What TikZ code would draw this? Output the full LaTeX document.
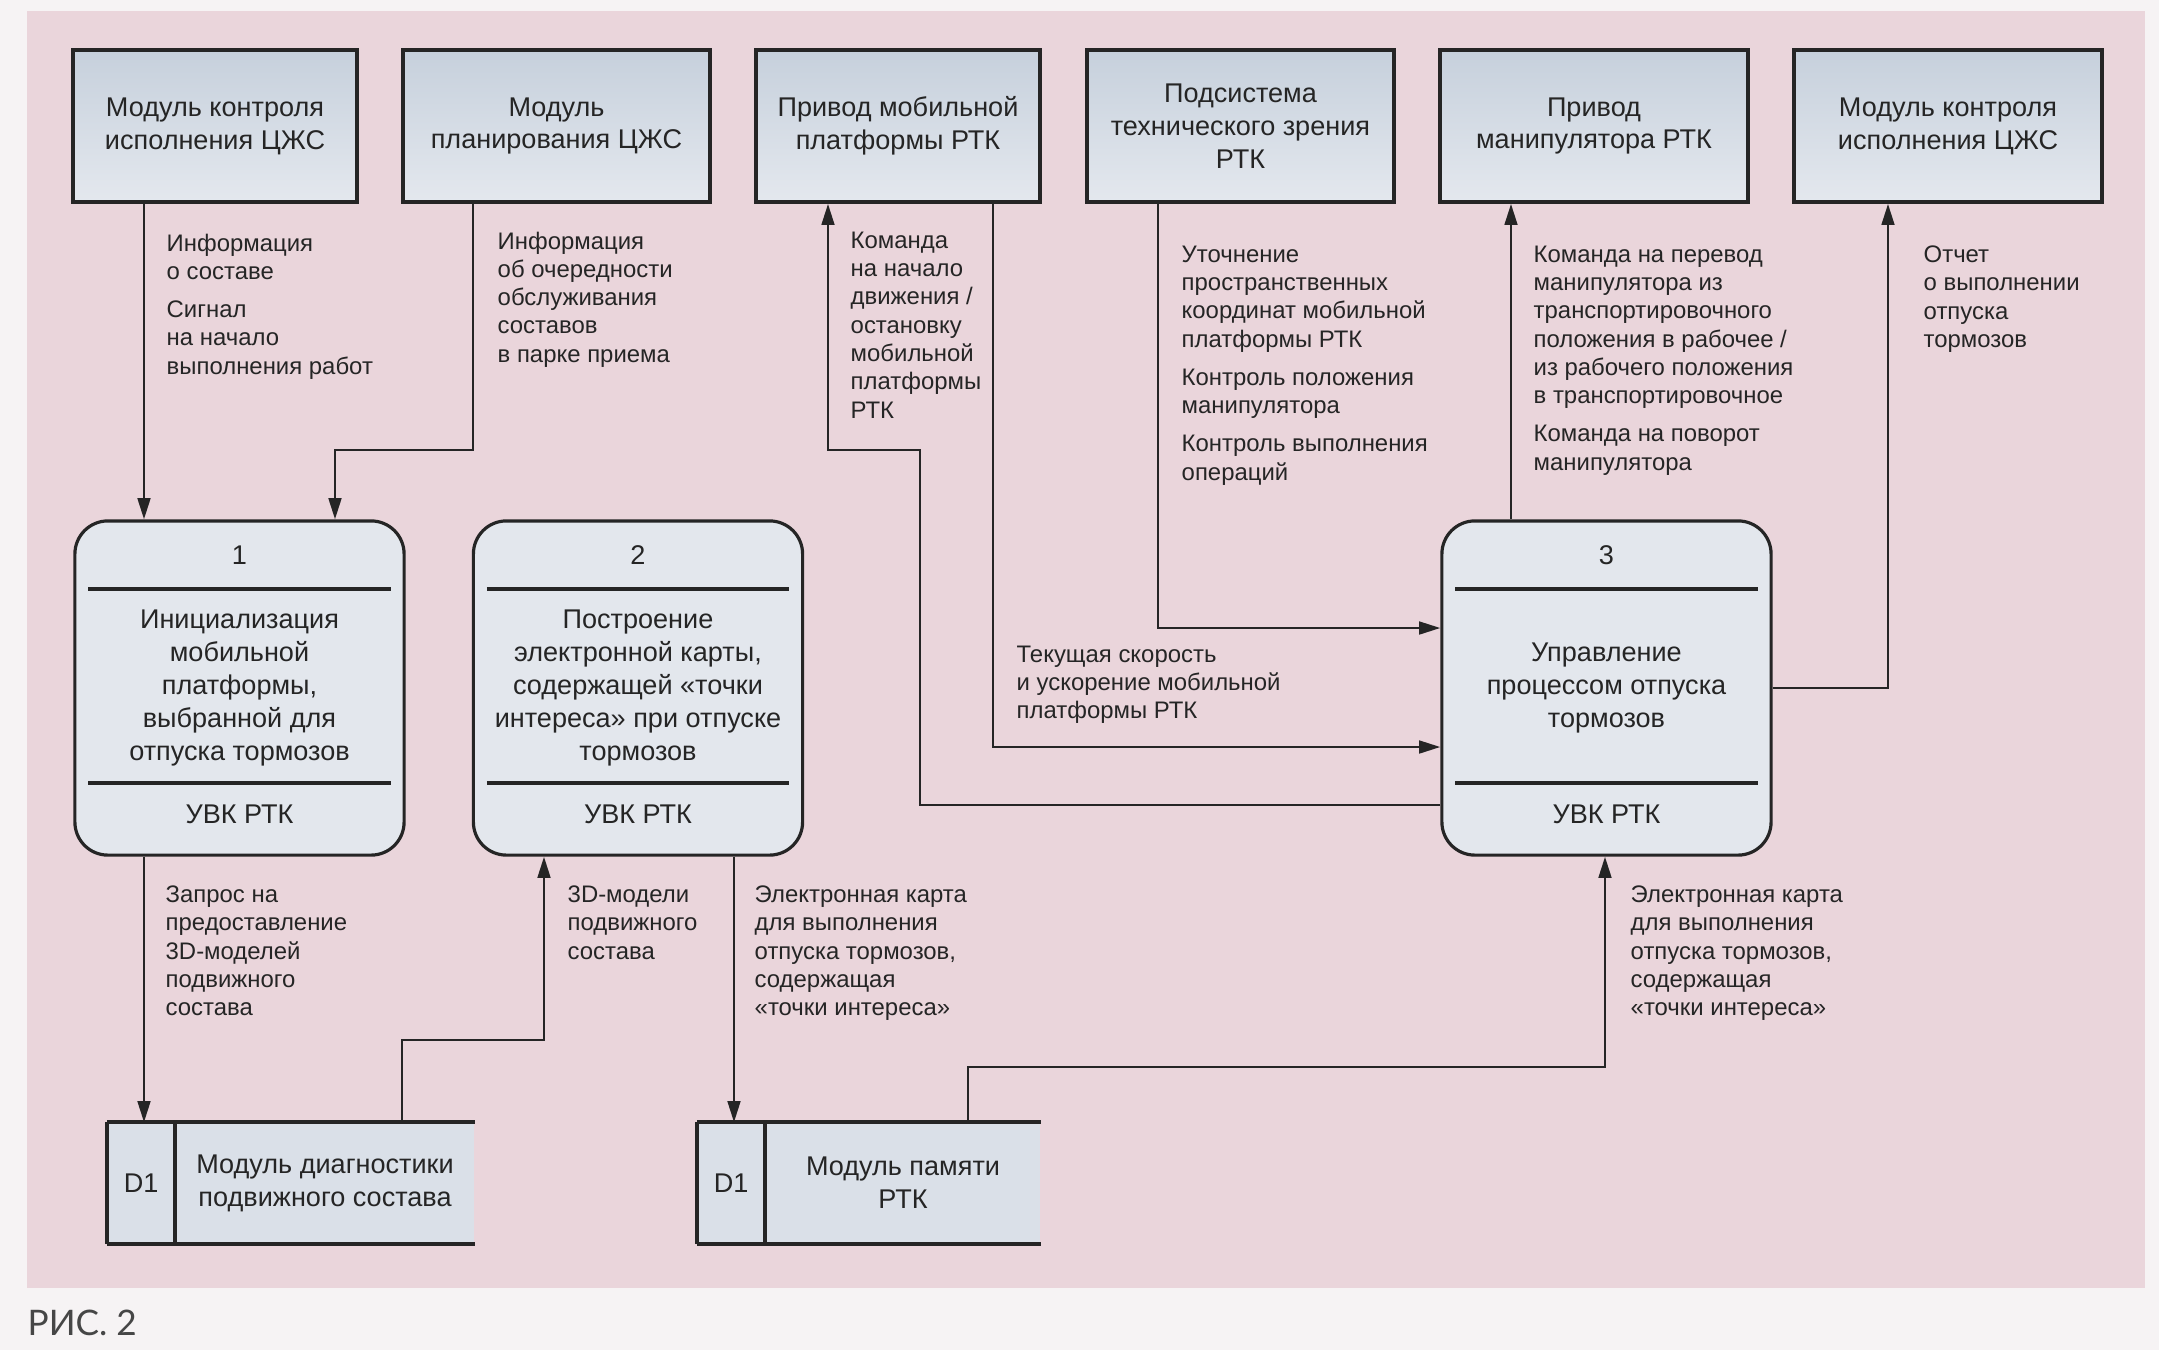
\documentclass[tikz,border=0pt]{standalone}
\usepackage{fontspec}
\setmainfont{Liberation Sans}
\newfontfamily\capfont{Lato}
\usetikzlibrary{arrows.meta}
\definecolor{pinkbg}{HTML}{EAD5DB}
\definecolor{paper}{HTML}{F6F3F4}
\definecolor{boxtop}{HTML}{C6D0DC}
\definecolor{boxbot}{HTML}{E4E8EE}
\definecolor{procfill}{HTML}{E3E7ED}
\definecolor{storefill}{HTML}{DAE0E8}
\definecolor{ink}{HTML}{252525}
\tikzset{
    ext/.style={draw=ink, line width=1pt, top color=boxtop, bottom color=boxbot,
        minimum height=1.52cm, align=center, text=ink, inner sep=0pt,
        font=\fontsize{7.7}{9.35}\selectfont},
    proc/.style={draw=ink, line width=0.9pt, fill=procfill, rounded corners=0.33cm,
        minimum width=3.29cm, minimum height=3.34cm},
    ptext/.style={align=center, text=ink, inner sep=0pt, font=\fontsize{7.7}{9.35}\selectfont},
    store/.style={fill=storefill, minimum height=1.20cm, inner sep=0pt},
    lbl/.style={anchor=north west, align=left, text=ink, inner sep=0pt,
        font=\fontsize{6.8}{8.05}\selectfont},
    dataflow/.style={draw=ink, line width=0.75pt, -{Triangle[length=6pt,width=3.6pt]}},
    divline/.style={draw=ink, line width=1.1pt},
    edgeline/.style={draw=ink, line width=1.2pt},
}
\begin{document}
\begin{tikzpicture}[x=0.01cm, y=-0.01cm]
    \useasboundingbox (0,0) rectangle (2159,1350);
    \fill[paper] (0,0) rectangle (2159,1350);
    \fill[pinkbg] (27,11) rectangle (2145,1288);

    \node[ext, minimum width=2.84cm] (ext1) at (215,126) {Модуль контроля\\исполнения ЦЖС};
    \node[ext, minimum width=3.07cm] (ext2) at (556.5,126) {Модуль\\планирования ЦЖС};
    \node[ext, minimum width=2.84cm] (ext3) at (898,126) {Привод мобильной\\платформы РТК};
    \node[ext, minimum width=3.07cm] (ext4) at (1240.5,126) {Подсистема\\технического зрения\\РТК};
    \node[ext, minimum width=3.08cm] (ext5) at (1594,126) {Привод\\манипулятора РТК};
    \node[ext, minimum width=3.08cm] (ext6) at (1948,126) {Модуль контроля\\исполнения ЦЖС};

    \node[proc] (p1) at (239.5,688) {};
    \node[proc] (p2) at (638,688) {};
    \node[proc] (p3) at (1606.5,688) {};
    \foreach \p/\n in {p1/1, p2/2, p3/3} {
        \draw[divline] ([xshift=0.15cm,yshift=-0.70cm]\p.north west) -- ([xshift=-0.15cm,yshift=-0.70cm]\p.north east);
        \draw[divline] ([xshift=0.15cm,yshift=0.74cm]\p.south west) -- ([xshift=-0.15cm,yshift=0.74cm]\p.south east);
        \node[ptext] (\p-num) at ([yshift=-0.36cm]\p.north) {\n};
        \node[ptext] (\p-unit) at ([yshift=0.42cm]\p.south) {УВК РТК};
    }
    \node[ptext] (p1-txt) at (p1) {Инициализация\\мобильной\\платформы,\\выбранной для\\отпуска тормозов};
    \node[ptext] (p2-txt) at (p2) {Построение\\электронной карты,\\содержащей «точки\\интереса» при отпуске\\тормозов};
    \node[ptext] (p3-txt) at (p3) {Управление\\процессом отпуска\\тормозов};

    \node[store, minimum width=3.66cm] (s1) at (291,1183) {};
    \node[store, minimum width=3.42cm] (s2) at (869,1183) {};
    \foreach \s in {s1, s2} {
        \draw[edgeline] (\s.north east) -- (\s.north west);
        \draw[edgeline] (\s.south west) -- (\s.south east);
        \draw[divline] (\s.north west) -- (\s.south west);
        \draw[divline] ([xshift=0.68cm]\s.north west) -- ([xshift=0.68cm]\s.south west);
        \node[ptext] (\s-id) at ([xshift=0.34cm]\s.west) {D1};
    }
    \node[ptext] (s1-txt) at ([xshift=0.34cm]s1.center) {Модуль диагностики\\подвижного состава};
    \node[ptext] (s2-txt) at ([xshift=0.34cm]s2.center) {Модуль памяти\\РТК};

    \coordinate (f1) at (144,0);
    \coordinate (a2) at (473,0);
    \coordinate (b2) at (335,450);
    \coordinate (c3) at (920,805);
    \coordinate (d3) at (828,450);
    \coordinate (e3) at (993,747);
    \coordinate (g4) at (1158,628);
    \coordinate (h5) at (1511,0);
    \coordinate (k6) at (1888,688);
    \coordinate (m1) at (402,0);
    \coordinate (n1) at (544,1040);
    \coordinate (q2) at (734,0);
    \coordinate (r2) at (968,0);
    \coordinate (t2) at (1605,1067);

    \draw[dataflow] (ext1.south -| f1) -- (p1.north -| f1);
    \draw[dataflow] (ext2.south -| a2) |- (b2) -- (b2 |- p1.north);
    \draw[dataflow] (p3.west |- c3) -- (c3) |- (d3) -- (d3 |- ext3.south);
    \draw[dataflow] (ext3.south -| e3) |- (p3.west |- e3);
    \draw[dataflow] (ext4.south -| g4) |- (p3.west |- g4);
    \draw[dataflow] (p3.north -| h5) -- (ext5.south -| h5);
    \draw[dataflow] (p3.east |- k6) -- (k6) -- (k6 |- ext6.south);
    \draw[dataflow] (p1.south -| f1) -- (s1.north -| f1);
    \draw[dataflow] (s1.north -| m1) |- (n1) -- (n1 |- p2.south);
    \draw[dataflow] (p2.south -| q2) -- (s2.north -| q2);
    \draw[dataflow] (s2.north -| r2) |- (t2) -- (t2 |- p3.south);

    \node[lbl] (l1) at (166,233) {Информация\\о составе\\[2.8pt]Сигнал\\на начало\\выполнения работ};
    \node[lbl] (l2) at (497,231) {Информация\\об очередности\\обслуживания\\составов\\в парке приема};
    \node[lbl] (l3) at (850,231) {Команда\\на начало\\движения /\\остановку\\мобильной\\платформы\\РТК};
    \node[lbl] (l4) at (1016,645) {Текущая скорость\\и ускорение мобильной\\платформы РТК};
    \node[lbl] (l5) at (1181,245) {Уточнение\\пространственных\\координат мобильной\\платформы РТК\\[2.8pt]Контроль положения\\манипулятора\\[2.8pt]Контроль выполнения\\операций};
    \node[lbl] (l6) at (1533,245) {Команда на перевод\\манипулятора из\\транспортировочного\\положения в рабочее /\\из рабочего положения\\в транспортировочное\\[2.8pt]Команда на поворот\\манипулятора};
    \node[lbl] (l7) at (1923,245) {Отчет\\о выполнении\\отпуска\\тормозов};
    \node[lbl] (l8) at (165,885) {Запрос на\\предоставление\\3D-моделей\\подвижного\\состава};
    \node[lbl] (l9) at (567,885) {3D-модели\\подвижного\\состава};
    \node[lbl] (l10) at (754,885) {Электронная карта\\для выполнения\\отпуска тормозов,\\содержащая\\«точки интереса»};
    \node[lbl] (l11) at (1630,885) {Электронная карта\\для выполнения\\отпуска тормозов,\\содержащая\\«точки интереса»};

    \node[anchor=base west, inner sep=0pt, text=ink!85, font=\capfont\fontsize{10}{12}\selectfont] (fig) at (27,1335) {РИС. 2};
\end{tikzpicture}
\end{document}
